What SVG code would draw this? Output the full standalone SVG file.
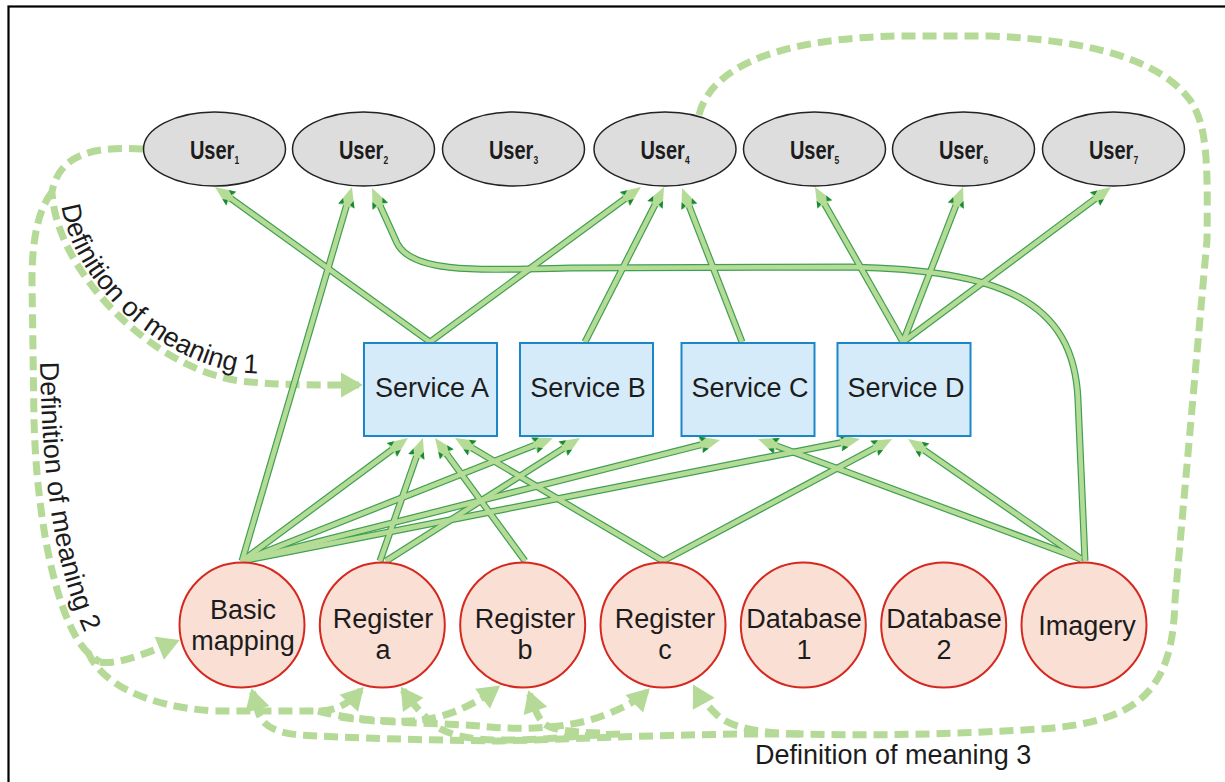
<svg xmlns="http://www.w3.org/2000/svg" width="1225" height="782" viewBox="0 0 1225 782">
<style>
.t{font-family:"Liberation Sans",Arial,sans-serif;font-size:27px;fill:#1c1c1c}
.u{font-family:"Liberation Sans",Arial,sans-serif;font-size:26px;font-weight:bold;fill:#1c1c1c}
.sub{font-size:11px}
.user{fill:#dddddd;stroke:#222;stroke-width:1.5}
.svc{fill:#d6ebf9;stroke:#1b87c9;stroke-width:2}
.src{fill:#fadfd4;stroke:#d5281f;stroke-width:2}
.dash{fill:none;stroke:#b5da97;stroke-width:7;stroke-dasharray:14 7}
.dashA{marker-end:url(#da)}
.edge{fill:none;stroke:#3f9f52;stroke-width:7}
.core{fill:none;stroke:#b5dc96;stroke-width:4.6;marker-end:url(#sa)}
</style>
<defs>
<marker id="sa" markerUnits="userSpaceOnUse" orient="auto" overflow="visible" markerWidth="1" markerHeight="1" refX="0" refY="0">
<path d="M12,0 L-8,-8.5 L-8,8.5 Z" fill="#b5dc96"/>
<path d="M-8,-8.5 L-1,-5.5 L-6,-3.2 Z M-8,8.5 L-1,5.5 L-6,3.2 Z" fill="#17893a"/>
</marker>
<marker id="da" markerUnits="userSpaceOnUse" orient="auto" overflow="visible" markerWidth="1" markerHeight="1" refX="0" refY="0">
<path d="M4,0 L-18,-12.5 L-18,12.5 Z" fill="#b5da97"/>
</marker>
<path id="tp1" d="M61,198 C65,272 152,362 246,373 L320,377"/>
<path id="tp2" d="M40,362 C42,460 50,560 88,640 L110,670"/>
</defs>

<rect x="8.5" y="6.5" width="1400" height="1000" fill="none" stroke="#000" stroke-width="2.2"/>

<g id="dashed-connectors">
<path class="dash dashA" d="M143,149 C100,147 60,150 52,192 C56,270 150,368 240,381 C280,385 300,385 359,385"/>
<path class="dash" d="M52,192 C38,210 32,240 32,280 L34,420 C36,500 50,590 75,635 C82,648 90,656 100,662"/>
<path class="dash dashA" d="M100,662 C115,665 140,656 176,641.5"/>
<path class="dash dashA" d="M88,652 C100,682 145,707 215,711 L318,711 C338,711 350,702 361,690"/>
<path class="dash dashA" d="M318,711 C345,718 380,722 410,721 C440,720 470,708 497,688"/>
<path class="dash dashA" d="M340,717 C380,724 440,722 490,727 C540,731 580,725 605,715 C625,707 638,700 647,691"/>
<path class="dash" d="M699,115 C712,62 790,38 900,36 L990,36 C1090,40 1160,60 1190,100 C1207,125 1208,160 1207,240 L1175,600 C1173,690 1140,722 1040,729 C960,734 880,736 800,734"/>
<path class="dash dashA" d="M800,734 C760,733 730,728 716,714 C708,706 700,697 695,688"/>
<path class="dash dashA" d="M800,734 C700,733 600,738 500,741 C420,740 350,738 300,735 C275,733 262,725 258,712 L252.5,692"/>
<path class="dash dashA" d="M620,734 C580,735 540,741 500,740 C470,740 450,735 437,727 C425,718 412,703 403,690"/>
<path class="dash dashA" d="M600,733 C570,732 550,730 542,722 C536,714 533,704 529.5,694"/>
</g>

<g id="connectors">
<g class="edge">
<path d="M242,561 L398.3,445.1"/>
<path d="M242,561 L541.8,442.4"/>
<path d="M242,561 L708.4,442.9"/>
<path d="M242,561 L848.2,441.3"/>
<path d="M242,561 L348.6,198.5"/>
<path d="M380,561 L419,449.3"/>
<path d="M386,561 L569.9,444.4"/>
<path d="M525,561 L442.1,447.7"/>
<path d="M663,561 L465.3,444.1"/>
<path d="M663,561 L881.4,444.6"/>
<path d="M1081,559 L769.3,443.2"/>
<path d="M1081,559 L917.9,445.8"/>
<path d="M1085,561 L1078,400 C1074,300 1000,270 850,267 L570,268 C480,270 412,274 397,243 L377,198.9"/>
<path d="M430,342 L224.7,194"/>
<path d="M430,342 L631.3,194.1"/>
<path d="M585,342 L658.6,197.7"/>
<path d="M742,342 L686.4,199.2"/>
<path d="M903,342 L820.9,197.4"/>
<path d="M903,342 L958.7,198.2"/>
<path d="M903,342 L1101.4,194.2"/>
</g>
<g class="core">
<path d="M242,561 L398.3,445.1"/>
<path d="M242,561 L541.8,442.4"/>
<path d="M242,561 L708.4,442.9"/>
<path d="M242,561 L848.2,441.3"/>
<path d="M242,561 L348.6,198.5"/>
<path d="M380,561 L419,449.3"/>
<path d="M386,561 L569.9,444.4"/>
<path d="M525,561 L442.1,447.7"/>
<path d="M663,561 L465.3,444.1"/>
<path d="M663,561 L881.4,444.6"/>
<path d="M1081,559 L769.3,443.2"/>
<path d="M1081,559 L917.9,445.8"/>
<path d="M1085,561 L1078,400 C1074,300 1000,270 850,267 L570,268 C480,270 412,274 397,243 L377,198.9"/>
<path d="M430,342 L224.7,194"/>
<path d="M430,342 L631.3,194.1"/>
<path d="M585,342 L658.6,197.7"/>
<path d="M742,342 L686.4,199.2"/>
<path d="M903,342 L820.9,197.4"/>
<path d="M903,342 L958.7,198.2"/>
<path d="M903,342 L1101.4,194.2"/>
</g>
</g>

<g id="labels">
<text class="t"><textPath href="#tp1" startOffset="8">Definition of meaning 1</textPath></text>
<text class="t"><textPath href="#tp2">Definition of meaning 2</textPath></text>
<text class="t" x="755" y="764">Definition of meaning 3</text>
</g>

<g id="user1"><ellipse class="user" cx="214.5" cy="149" rx="71" ry="37"/><text class="u" text-anchor="middle" transform="translate(214.5,158.5) scale(0.77,1)">User<tspan class="sub" dy="5">1</tspan></text></g>
<g id="user2"><ellipse class="user" cx="363.5" cy="149" rx="71" ry="37"/><text class="u" text-anchor="middle" transform="translate(363.5,158.5) scale(0.77,1)">User<tspan class="sub" dy="5">2</tspan></text></g>
<g id="user3"><ellipse class="user" cx="513.5" cy="149" rx="71" ry="37"/><text class="u" text-anchor="middle" transform="translate(513.5,158.5) scale(0.77,1)">User<tspan class="sub" dy="5">3</tspan></text></g>
<g id="user4"><ellipse class="user" cx="665" cy="149" rx="71" ry="37"/><text class="u" text-anchor="middle" transform="translate(665,158.5) scale(0.77,1)">User<tspan class="sub" dy="5">4</tspan></text></g>
<g id="user5"><ellipse class="user" cx="814.5" cy="149" rx="71" ry="37"/><text class="u" text-anchor="middle" transform="translate(814.5,158.5) scale(0.77,1)">User<tspan class="sub" dy="5">5</tspan></text></g>
<g id="user6"><ellipse class="user" cx="963.5" cy="149" rx="71" ry="37"/><text class="u" text-anchor="middle" transform="translate(963.5,158.5) scale(0.77,1)">User<tspan class="sub" dy="5">6</tspan></text></g>
<g id="user7"><ellipse class="user" cx="1113.5" cy="149" rx="71" ry="37"/><text class="u" text-anchor="middle" transform="translate(1113.5,158.5) scale(0.77,1)">User<tspan class="sub" dy="5">7</tspan></text></g>

<g id="serviceA"><rect class="svc" x="364" y="343" width="133" height="93"/><text class="t" x="432" y="396.5" text-anchor="middle">Service A</text></g>
<g id="serviceB"><rect class="svc" x="520" y="343" width="133" height="93"/><text class="t" x="588" y="396.5" text-anchor="middle">Service B</text></g>
<g id="serviceC"><rect class="svc" x="681.5" y="343" width="133" height="93"/><text class="t" x="750" y="396.5" text-anchor="middle">Service C</text></g>
<g id="serviceD"><rect class="svc" x="837.5" y="343" width="133" height="93"/><text class="t" x="906" y="396.5" text-anchor="middle">Service D</text></g>

<g id="basic-mapping"><circle class="src" cx="242" cy="625" r="62.5"/><text class="t" text-anchor="middle"><tspan x="243" y="618.5">Basic</tspan><tspan x="243" y="650">mapping</tspan></text></g>
<g id="register-a"><circle class="src" cx="382.3" cy="625" r="62.5"/><text class="t" text-anchor="middle"><tspan x="383" y="628">Register</tspan><tspan x="383" y="658.5">a</tspan></text></g>
<g id="register-b"><circle class="src" cx="522.7" cy="625" r="62.5"/><text class="t" text-anchor="middle"><tspan x="525" y="628">Register</tspan><tspan x="525" y="658.5">b</tspan></text></g>
<g id="register-c"><circle class="src" cx="663" cy="625" r="62.5"/><text class="t" text-anchor="middle"><tspan x="665" y="628">Register</tspan><tspan x="665" y="658.5">c</tspan></text></g>
<g id="database-1"><circle class="src" cx="803.3" cy="625" r="62.5"/><text class="t" text-anchor="middle"><tspan x="804" y="628">Database</tspan><tspan x="804" y="658.5">1</tspan></text></g>
<g id="database-2"><circle class="src" cx="943.7" cy="625" r="62.5"/><text class="t" text-anchor="middle"><tspan x="944" y="628">Database</tspan><tspan x="944" y="658.5">2</tspan></text></g>
<g id="imagery"><circle class="src" cx="1084" cy="625" r="62.5"/><text class="t" x="1087" y="634.5" text-anchor="middle">Imagery</text></g>
</svg>
